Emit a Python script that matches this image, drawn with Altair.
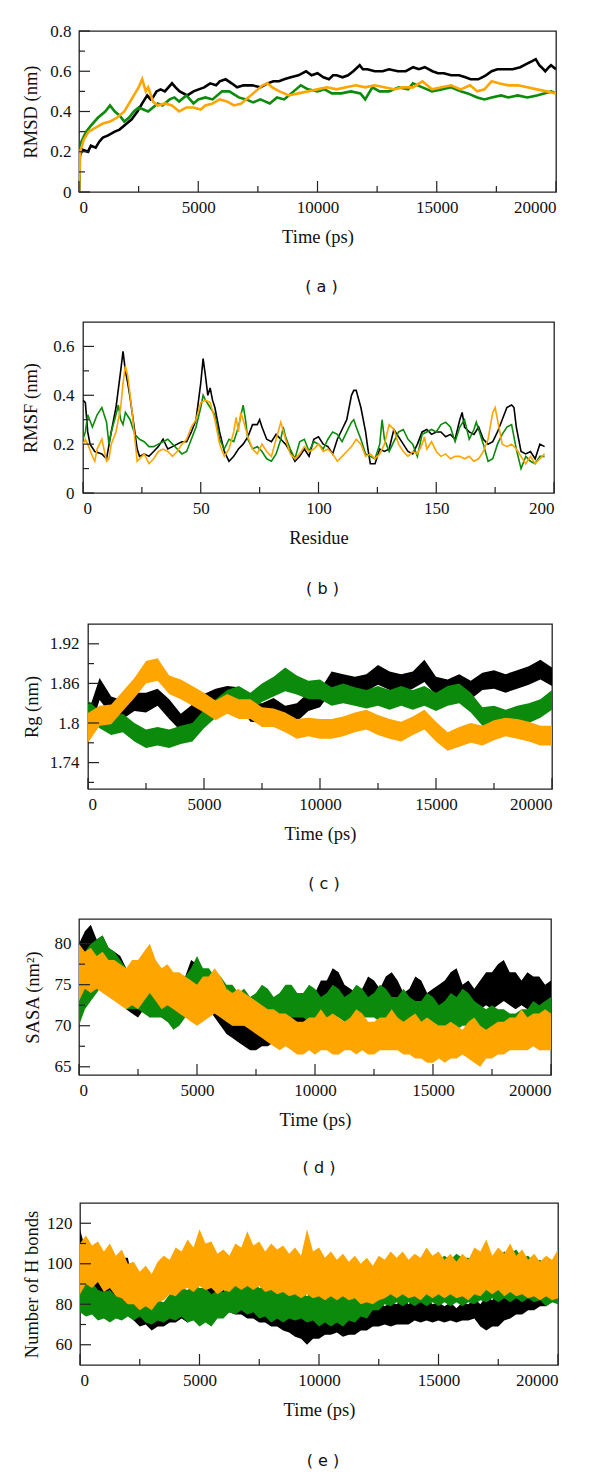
import altair as alt
import pandas as pd

BLACK = "#000000"
GREEN = "#0b8a0b"
ORANGE = "#ffa500"

# ---------------- (a) RMSD ----------------
a_black_t = [0, 30, 150, 370, 500, 700, 850, 1000, 1200, 1500, 1700, 2000, 2200, 2450, 2650, 2860, 3000, 3100, 3250, 3420, 3600, 3900, 4050, 4220, 4540, 4800, 5020, 5250, 5500, 5750, 5900, 6150, 6400, 6630, 6900, 7270, 7600, 7910, 8150, 8390, 8600, 8880, 9200, 9520, 9750, 10000, 10250, 10480, 10650, 10800, 11050, 11280, 11500, 11770, 11900, 12090, 12400, 12730, 13000, 13370, 13700, 14010, 14250, 14500, 14820, 15050, 15300, 15600, 15940, 16200, 16420, 16740, 16900, 17060, 17300, 17540, 17850, 18180, 18500, 18830, 19000, 19150, 19300, 19390, 19550, 19700, 19790, 20000]
a_black_v = [0.0, 0.18, 0.21, 0.2, 0.23, 0.22, 0.25, 0.27, 0.28, 0.3, 0.31, 0.34, 0.36, 0.4, 0.44, 0.48, 0.46, 0.47, 0.5, 0.51, 0.5, 0.54, 0.52, 0.5, 0.48, 0.5, 0.51, 0.52, 0.54, 0.53, 0.55, 0.56, 0.54, 0.52, 0.53, 0.53, 0.52, 0.54, 0.55, 0.55, 0.56, 0.57, 0.58, 0.6, 0.58, 0.59, 0.57, 0.56, 0.58, 0.58, 0.57, 0.58, 0.6, 0.63, 0.61, 0.61, 0.6, 0.6, 0.61, 0.6, 0.6, 0.62, 0.61, 0.62, 0.6, 0.59, 0.59, 0.58, 0.58, 0.57, 0.56, 0.56, 0.57, 0.58, 0.6, 0.61, 0.61, 0.61, 0.62, 0.64, 0.65, 0.66, 0.63, 0.62, 0.6, 0.62, 0.63, 0.61]
a_green_t = [0, 20, 100, 300, 500, 800, 1100, 1300, 1500, 1700, 1900, 2100, 2300, 2500, 2700, 2900, 3100, 3300, 3500, 3800, 4000, 4200, 4500, 4800, 5000, 5300, 5600, 6000, 6300, 6700, 7000, 7300, 7600, 8000, 8300, 8600, 8800, 9000, 9300, 9600, 10000, 10300, 10600, 11000, 11400, 11800, 12000, 12300, 12600, 13000, 13400, 13800, 14000, 14400, 14800, 15200, 15600, 16000, 16300, 16700, 17000, 17300, 17700, 18000, 18400, 18800, 19200, 19500, 19800, 20000]
a_green_v = [0.0, 0.15, 0.25, 0.3, 0.33, 0.37, 0.4, 0.43, 0.4, 0.38, 0.35, 0.37, 0.4, 0.42, 0.41, 0.4, 0.42, 0.44, 0.43, 0.46, 0.47, 0.45, 0.48, 0.44, 0.46, 0.47, 0.46, 0.5, 0.5, 0.47, 0.46, 0.445, 0.46, 0.44, 0.47, 0.46, 0.48, 0.5, 0.53, 0.51, 0.5, 0.51, 0.49, 0.49, 0.5, 0.49, 0.46, 0.52, 0.5, 0.5, 0.52, 0.51, 0.54, 0.52, 0.5, 0.51, 0.52, 0.5, 0.49, 0.47, 0.46, 0.47, 0.48, 0.47, 0.48, 0.47, 0.48, 0.49, 0.5, 0.49]
a_orange_t = [0, 50, 200, 400, 700, 1000, 1300, 1600, 1900, 2100, 2300, 2500, 2650, 2800, 2900, 3100, 3300, 3600, 3900, 4200, 4500, 4800, 5100, 5300, 5600, 5900, 6200, 6500, 6800, 7100, 7400, 7700, 7900, 8100, 8400, 8800, 9200, 9600, 10000, 10400, 10800, 11200, 11600, 12000, 12400, 12800, 13200, 13600, 14000, 14400, 14800, 15200, 15600, 16000, 16400, 16700, 17000, 17300, 17600, 18000, 18400, 18800, 19200, 19600, 20000]
a_orange_v = [0.0, 0.2, 0.26, 0.3, 0.32, 0.34, 0.35, 0.37, 0.4, 0.44, 0.48, 0.52, 0.56, 0.5, 0.52, 0.45, 0.43, 0.44, 0.43, 0.4, 0.42, 0.42, 0.41, 0.43, 0.44, 0.46, 0.45, 0.43, 0.44, 0.47, 0.5, 0.53, 0.54, 0.52, 0.5, 0.48, 0.49, 0.5, 0.51, 0.52, 0.51, 0.52, 0.53, 0.52, 0.53, 0.52, 0.51, 0.52, 0.52, 0.55, 0.51, 0.52, 0.53, 0.51, 0.53, 0.5, 0.51, 0.55, 0.54, 0.53, 0.53, 0.52, 0.51, 0.5, 0.49]

# ---------------- (b) RMSF ----------------
b_black_r = [0, 1, 2, 3, 5, 8, 10, 12, 14, 16, 17, 18, 19, 20, 22, 23, 24, 26, 28, 30, 32, 34, 36, 38, 40, 42, 44, 46, 48, 50, 51, 52, 53, 54, 55, 56, 58, 60, 62, 64, 66, 68, 70, 72, 74, 75, 76, 78, 80, 82, 84, 86, 88, 90, 92, 94, 96, 98, 100, 102, 104, 106, 108, 110, 112, 114, 115, 116, 118, 120, 121, 122, 124, 126, 128, 130, 132, 134, 136, 138, 140, 142, 144, 146, 148, 150, 152, 154, 156, 158, 160, 161, 162, 164, 166, 168, 170, 172, 174, 176, 178, 180, 182, 183, 184, 186, 188, 190, 192, 194, 196]
b_black_v = [0.38, 0.37, 0.25, 0.2, 0.17, 0.16, 0.14, 0.25, 0.35, 0.5, 0.58, 0.5, 0.45, 0.39, 0.25, 0.18, 0.15, 0.16, 0.15, 0.17, 0.19, 0.22, 0.18, 0.19, 0.2, 0.21, 0.21, 0.25, 0.3, 0.45, 0.55, 0.48, 0.4, 0.43, 0.38, 0.35, 0.25, 0.17, 0.13, 0.15, 0.18, 0.2, 0.23, 0.28, 0.28, 0.3, 0.27, 0.22, 0.21, 0.24, 0.22, 0.2, 0.17, 0.13, 0.15, 0.18, 0.15, 0.22, 0.23, 0.2, 0.19, 0.16, 0.22, 0.26, 0.3, 0.4, 0.42, 0.42, 0.35, 0.25, 0.18, 0.12, 0.12, 0.18, 0.17, 0.18, 0.26, 0.23, 0.2, 0.17, 0.16, 0.2, 0.25, 0.26, 0.24, 0.25, 0.25, 0.23, 0.24, 0.22, 0.3, 0.33, 0.27, 0.25, 0.24, 0.27, 0.22, 0.2, 0.21, 0.25, 0.3, 0.35, 0.36, 0.35, 0.27, 0.17, 0.16, 0.17, 0.14, 0.2, 0.19]
b_green_r = [0, 1, 2, 4, 6, 8, 10, 11, 12, 14, 15, 16, 17, 18, 20, 22, 24, 26, 28, 30, 32, 34, 36, 38, 40, 42, 44, 46, 48, 50, 51, 52, 54, 56, 58, 60, 62, 64, 66, 68, 69, 70, 72, 74, 76, 78, 80, 82, 84, 85, 86, 88, 90, 92, 94, 96, 98, 100, 102, 104, 106, 108, 110, 112, 114, 115, 116, 118, 120, 122, 124, 126, 127, 128, 130, 132, 134, 136, 138, 140, 142, 144, 146, 148, 150, 152, 154, 156, 158, 160, 162, 164, 166, 167, 168, 170, 172, 174, 176, 178, 180, 182, 184, 186, 188, 190, 192, 194, 196]
b_green_v = [0.22, 0.25, 0.32, 0.27, 0.32, 0.35, 0.29, 0.2, 0.25, 0.32, 0.36, 0.3, 0.28, 0.33, 0.3, 0.24, 0.22, 0.21, 0.19, 0.19, 0.2, 0.21, 0.22, 0.2, 0.18, 0.16, 0.17, 0.22, 0.27, 0.35, 0.4, 0.38, 0.35, 0.32, 0.22, 0.18, 0.22, 0.21, 0.27, 0.36, 0.3, 0.22, 0.18, 0.19, 0.17, 0.14, 0.13, 0.16, 0.22, 0.27, 0.23, 0.18, 0.14, 0.21, 0.22, 0.17, 0.21, 0.2, 0.18, 0.22, 0.25, 0.24, 0.21, 0.25, 0.29, 0.3, 0.27, 0.22, 0.16, 0.15, 0.14, 0.2, 0.3, 0.22, 0.17, 0.21, 0.25, 0.26, 0.22, 0.2, 0.15, 0.24, 0.25, 0.26, 0.25, 0.28, 0.29, 0.27, 0.21, 0.27, 0.3, 0.22, 0.26, 0.29, 0.26, 0.2, 0.13, 0.14, 0.2, 0.24, 0.27, 0.28, 0.18, 0.1, 0.15, 0.13, 0.12, 0.15, 0.15]
b_orange_r = [0, 1, 2, 4, 5, 6, 8, 10, 11, 12, 14, 16, 17, 18, 19, 20, 21, 22, 23, 24, 26, 28, 30, 32, 34, 36, 38, 40, 42, 44, 46, 48, 50, 52, 54, 56, 58, 60, 62, 64, 65, 66, 67, 68, 70, 72, 74, 76, 78, 80, 82, 84, 86, 88, 90, 92, 94, 96, 98, 100, 102, 104, 106, 108, 110, 112, 114, 116, 118, 120, 122, 124, 126, 128, 130, 132, 134, 136, 138, 140, 142, 144, 145, 146, 148, 150, 152, 154, 156, 158, 160, 162, 164, 166, 168, 170, 172, 174, 175, 176, 178, 180, 182, 184, 186, 188, 190, 192, 194, 196]
b_orange_v = [0.2, 0.22, 0.2, 0.15, 0.13, 0.18, 0.22, 0.13, 0.14, 0.2, 0.25, 0.35, 0.45, 0.52, 0.48, 0.4, 0.32, 0.22, 0.13, 0.14, 0.16, 0.12, 0.14, 0.17, 0.18, 0.17, 0.15, 0.17, 0.2, 0.22, 0.27, 0.3, 0.37, 0.38, 0.37, 0.3, 0.2, 0.15, 0.18, 0.25, 0.31, 0.25, 0.33, 0.3, 0.23, 0.18, 0.16, 0.2, 0.17, 0.15, 0.22, 0.29, 0.22, 0.16, 0.14, 0.16, 0.19, 0.17, 0.18, 0.2, 0.17, 0.18, 0.16, 0.13, 0.15, 0.17, 0.19, 0.22, 0.2, 0.15, 0.16, 0.14, 0.16, 0.2, 0.28, 0.26, 0.2, 0.17, 0.15, 0.17, 0.16, 0.2, 0.23, 0.18, 0.21, 0.17, 0.15, 0.16, 0.14, 0.15, 0.15, 0.14, 0.15, 0.13, 0.14, 0.17, 0.22, 0.33, 0.35, 0.3, 0.2, 0.19, 0.2, 0.18, 0.15, 0.12, 0.15, 0.12, 0.14, 0.16]

# time grids (ps) for the band panels
t_grid = list(range(0, 20001, 500))
t_fine = list(range(0, 20001, 250))

# ---------------- (c) Rg ----------------
c_black_lo = [1.78, 1.835, 1.812, 1.806, 1.818, 1.816, 1.826, 1.806, 1.788, 1.798, 1.818, 1.824, 1.83, 1.826, 1.802, 1.8, 1.812, 1.798, 1.802, 1.818, 1.824, 1.848, 1.846, 1.842, 1.848, 1.858, 1.85, 1.846, 1.852, 1.862, 1.842, 1.838, 1.846, 1.836, 1.85, 1.852, 1.846, 1.852, 1.858, 1.866, 1.856]
c_black_hi = [1.815, 1.868, 1.84, 1.834, 1.846, 1.846, 1.852, 1.836, 1.814, 1.828, 1.844, 1.852, 1.856, 1.854, 1.83, 1.83, 1.838, 1.826, 1.83, 1.846, 1.85, 1.878, 1.874, 1.87, 1.874, 1.888, 1.878, 1.874, 1.878, 1.896, 1.87, 1.866, 1.874, 1.864, 1.876, 1.88, 1.874, 1.88, 1.886, 1.896, 1.884]
c_green_lo = [1.806, 1.792, 1.782, 1.786, 1.772, 1.762, 1.766, 1.762, 1.768, 1.772, 1.792, 1.808, 1.822, 1.828, 1.818, 1.832, 1.84, 1.848, 1.843, 1.836, 1.836, 1.826, 1.83, 1.826, 1.822, 1.826, 1.82, 1.826, 1.82, 1.826, 1.818, 1.826, 1.83, 1.816, 1.796, 1.796, 1.79, 1.796, 1.8, 1.808, 1.82]
c_green_hi = [1.834, 1.818, 1.81, 1.814, 1.8, 1.79, 1.794, 1.79, 1.796, 1.8, 1.82, 1.836, 1.85, 1.856, 1.846, 1.86, 1.87, 1.884, 1.872, 1.864, 1.866, 1.854, 1.86, 1.854, 1.85, 1.856, 1.85, 1.856, 1.85, 1.856, 1.846, 1.856, 1.86, 1.846, 1.824, 1.826, 1.82, 1.826, 1.83, 1.836, 1.85]
c_orange_lo = [1.77, 1.796, 1.798, 1.818, 1.838, 1.86, 1.864, 1.844, 1.836, 1.826, 1.816, 1.804, 1.814, 1.806, 1.806, 1.794, 1.794, 1.786, 1.776, 1.78, 1.776, 1.776, 1.78, 1.786, 1.79, 1.782, 1.776, 1.772, 1.782, 1.79, 1.772, 1.758, 1.764, 1.77, 1.766, 1.774, 1.78, 1.776, 1.772, 1.766, 1.766]
c_orange_hi = [1.815, 1.826, 1.828, 1.848, 1.868, 1.894, 1.898, 1.872, 1.866, 1.856, 1.846, 1.834, 1.844, 1.836, 1.836, 1.824, 1.822, 1.816, 1.806, 1.808, 1.806, 1.806, 1.81, 1.816, 1.82, 1.812, 1.806, 1.802, 1.81, 1.82, 1.802, 1.786, 1.794, 1.8, 1.796, 1.804, 1.808, 1.806, 1.802, 1.796, 1.796]

# ---------------- (d) SASA (250 ps grid) ----------------
d_black_hi = [80, 81.5, 82.3, 80.5, 81, 79.5, 79, 78.5, 77,
              76, 76, 77, 75.5, 74.5, 75, 76, 75, 75.5,
              76, 78, 77.5, 76, 76.5, 75, 75, 73.5, 73,
              72, 71, 71.5, 71, 70.5, 71, 70.5, 71, 72,
              72, 72.5, 73, 74, 74, 75.5, 75.5, 77, 76.5,
              75, 74.5, 74, 74.5, 76, 75.5, 74.5, 76, 76.5,
              75.5, 74, 74.5, 76, 75.5, 74, 74.5, 75, 75.5,
              76.5, 77, 75, 75.5, 74.5, 75.5, 76.5, 76.5, 77.5,
              78, 76.5, 76.5, 75.5, 76.5, 76, 76, 75, 75.5]
d_black_lo = [72, 76, 78, 77, 76, 75, 74, 73, 72,
              71.5, 71, 72, 71, 71.5, 71, 70.5, 71, 71.5,
              72, 72.5, 73, 72, 72, 71, 70, 69, 68.5,
              68, 67.5, 67, 67, 67.5, 67.5, 68, 68, 68.5,
              69, 69.5, 70, 70.5, 71, 71.5, 72, 72, 72,
              72.5, 72, 71.5, 72, 72.5, 72, 71.5, 72, 71.5,
              71, 71.5, 71, 70.5, 71, 71.5, 71, 71.5, 72,
              72, 72, 71.5, 71, 71.5, 72, 72.5, 72, 72.5,
              73, 72.5, 72, 72.5, 72, 71.5, 72, 72.5, 72]
d_green_hi = [78, 79, 80, 80.5, 81, 79.5, 79, 78, 77,
              76.5, 76, 77, 76, 75, 75, 74, 75, 76,
              76, 77, 78.5, 77, 77, 76, 76, 75, 75,
              74, 74.5, 73.5, 74, 75, 74.5, 73.5, 74, 75,
              75, 74, 74, 75, 74.5, 73.5, 74, 75, 74.5,
              73.5, 74, 75, 74.5, 73.5, 74, 75, 74.5, 73.5,
              73.5, 74.5, 73.5, 73, 73, 74, 73.5, 72.5, 73,
              74, 73.5, 74.5, 74, 73, 72.5, 72, 72.5, 72,
              72, 71.5, 71.5, 72, 72, 73, 72.5, 73, 73.5]
d_green_lo = [70, 72, 73, 74, 75, 74.5, 74, 73, 72,
              72, 72, 71.5, 71, 71, 71, 70.5, 69.5, 70,
              71, 72, 73, 72.5, 72, 71.5, 71, 70.5, 70,
              70, 70, 70, 70, 70, 70, 70.5, 71, 71,
              71, 71, 71, 70.5, 70.5, 71, 71, 71, 71,
              70.5, 70.5, 71, 71, 71, 71, 70.5, 70.5, 70.5,
              70, 69.5, 69.5, 70, 70, 69.5, 69.5, 70, 70,
              69.5, 69.5, 70, 70, 69.5, 69, 69, 69, 69,
              68.5, 68, 68, 67.5, 67.5, 68, 68.5, 69, 70]
d_orange_hi = [80, 79, 79.5, 78.5, 79, 78, 78, 77.5, 77,
               78, 78, 79, 80, 78, 77, 77.5, 76.5, 76.5,
               76, 75.5, 75, 76, 76, 77, 76, 74.5, 74,
               74.5, 74, 73.5, 73, 72.5, 72, 72, 71.5, 71.5,
               71, 70.5, 70.5, 71, 71, 72, 71, 71.5, 71,
               70.5, 71, 72, 71.5, 70.5, 70.5, 71, 71, 72,
               71, 70.5, 71, 71.5, 70.5, 71, 70.5, 70, 70,
               70.5, 70, 69.5, 70.5, 71, 70, 69.5, 70, 70.5,
               70.5, 71, 71, 72, 71, 71.5, 71.5, 72, 71.5]
d_orange_lo = [73, 74.5, 74, 74.5, 74, 73.5, 73, 72.5, 72,
               72.5, 72, 73, 74, 73, 72, 72.5, 72, 71.5,
               71, 70.5, 70, 70.5, 71, 71.5, 71, 70.5, 70,
               70, 70, 69.5, 69, 68.5, 68, 67.5, 67, 67.5,
               67, 66.5, 66.5, 67, 66.5, 67, 67, 66.5, 66.5,
               67, 67, 66.5, 67, 66.5, 66.5, 67, 67, 67,
               67, 66.5, 66.5, 66, 66, 65.5, 65.5, 66, 65.5,
               66, 66, 66.5, 66, 65.5, 65, 66, 66, 66.5,
               66.5, 67, 67, 67, 67, 67.5, 67, 67, 67]

# ---------------- (e) H bonds (250 ps grid) ----------------
e_black_hi = [117, 106, 104, 101, 100, 102, 99, 103, 103,
              90, 80, 77, 79, 78, 81, 80, 83, 82,
              85, 84, 87, 86, 90, 85, 87, 85, 87,
              84, 86, 83, 84, 81, 83, 80, 81, 78,
              79, 76, 79, 76, 78, 77, 79, 76, 79,
              76, 78, 76, 79, 78, 81, 79, 81, 80,
              83, 80, 83, 81, 83, 80, 81, 79, 81,
              78, 81, 80, 83, 80, 84, 82, 87, 85,
              89, 86, 87, 85, 89, 87, 91, 89, 95]
e_black_lo = [88, 86, 85, 84, 81, 81, 79, 78, 75,
              72, 69, 70, 67, 69, 69, 71, 71, 73,
              71, 73, 73, 75, 73, 75, 74, 76, 75,
              75, 73, 73, 71, 71, 69, 69, 67, 66,
              64, 63, 60, 63, 63, 65, 65, 66, 64,
              65, 65, 67, 67, 69, 69, 70, 69, 70,
              70, 70, 72, 71, 72, 71, 72, 71, 72,
              71, 72, 72, 73, 69, 67, 69, 69, 72,
              73, 75, 75, 77, 77, 79, 79, 81, 82]
e_green_hi = [92, 90, 91, 87, 86, 87, 84, 85, 82,
              82, 79, 81, 79, 82, 81, 85, 85, 88,
              87, 90, 88, 88, 85, 87, 86, 90, 90,
              94, 92, 92, 88, 89, 87, 89, 86, 87,
              85, 86, 84, 87, 84, 88, 87, 88, 86,
              88, 86, 90, 89, 95, 97, 102, 99, 101,
              97, 100, 99, 102, 101, 103, 102, 104, 102,
              105, 103, 103, 99, 100, 97, 102, 103, 106,
              105, 107, 103, 104, 101, 102, 99, 100, 98]
e_green_lo = [76, 74, 75, 72, 73, 71, 73, 72, 74,
              72, 74, 71, 70, 72, 71, 73, 72, 74,
              71, 72, 69, 71, 69, 73, 73, 76, 75,
              77, 75, 76, 73, 74, 71, 73, 71, 73,
              72, 73, 71, 72, 69, 71, 69, 71, 69,
              72, 71, 74, 73, 77, 77, 80, 79, 81,
              79, 81, 79, 81, 79, 81, 79, 81, 79,
              81, 79, 81, 80, 82, 81, 83, 81, 83,
              81, 83, 81, 83, 81, 82, 79, 81, 80]
e_orange_hi = [110, 114, 109, 111, 106, 110, 104, 107, 100,
               101, 96, 99, 95, 101, 104, 102, 108, 106,
               112, 108, 117, 110, 111, 105, 107, 104, 110,
               108, 116, 109, 111, 106, 110, 107, 109, 105,
               108, 104, 117, 106, 108, 103, 106, 102, 105,
               101, 104, 100, 103, 99, 104, 102, 106, 103,
               106, 102, 105, 103, 108, 104, 106, 102, 105,
               101, 105, 102, 108, 106, 112, 104, 108, 105,
               110, 104, 107, 102, 105, 101, 104, 102, 107]
e_orange_lo = [85, 90, 88, 91, 86, 88, 84, 83, 80,
               80, 77, 79, 77, 81, 82, 85, 84, 87,
               88, 86, 89, 87, 88, 85, 87, 86, 89,
               87, 89, 87, 89, 86, 87, 85, 86, 84,
               85, 83, 85, 83, 84, 82, 84, 82, 84,
               82, 83, 80, 81, 80, 82, 83, 85, 83,
               85, 83, 84, 82, 85, 83, 85, 83, 85,
               83, 84, 82, 85, 84, 87, 85, 87, 84,
               86, 84, 85, 83, 84, 82, 84, 82, 83]

SERIF = "Liberation Serif"


def line_df(t, v):
    return pd.DataFrame({"t": t, "v": v})


def band_df(t, lo, hi):
    return pd.DataFrame({"t": t, "lo": lo, "hi": hi})


def panel(series, kind, xdom, ydom, x_major, x_minor, y_major, y_minor,
          xtitle, ytitle, w, h, caption, tpad_y, lpad_y=8, cap_off=31, stroke=2.2, yfmt="~g"):
    xs = alt.Scale(domain=xdom, nice=False, zero=False)
    ys = alt.Scale(domain=ydom, nice=False, zero=False)
    xax = alt.Axis(values=x_major, format="d", title=xtitle, labelPadding=7,
                   titlePadding=12, tickSize=0)
    yax = alt.Axis(values=y_major, format=yfmt, title=ytitle, labelPadding=lpad_y,
                   titlePadding=tpad_y, tickSize=0)
    layers = []
    for df, col in series:
        if kind == "line":
            layers.append(alt.Chart(df).mark_line(color=col, strokeWidth=stroke, clip=True).encode(
                x=alt.X("t:Q", scale=xs, axis=xax),
                y=alt.Y("v:Q", scale=ys, axis=yax)))
        else:
            layers.append(alt.Chart(df).mark_area(color=col, opacity=1, clip=True).encode(
                x=alt.X("t:Q", scale=xs, axis=xax),
                y=alt.Y("lo:Q", scale=ys, axis=yax),
                y2="hi:Q"))
    for vals, ln in ((x_major, 11), (x_minor, 6)):
        layers.append(alt.Chart(pd.DataFrame({"t": vals})).mark_rule(color="#222", strokeWidth=1.2).encode(
            x=alt.X("t:Q", scale=xs, axis=xax), y=alt.value(h), y2=alt.value(h - ln)))
    for vals, ln in ((y_major, 11), (y_minor, 6)):
        layers.append(alt.Chart(pd.DataFrame({"v": vals})).mark_rule(color="#222", strokeWidth=1.2).encode(
            y=alt.Y("v:Q", scale=ys, axis=yax), x=alt.value(0), x2=alt.value(ln)))
    return alt.layer(*layers).properties(
        width=w, height=h,
        title=alt.TitleParams(caption, orient="bottom", font="DejaVu Sans", fontSize=16,
                              fontWeight="normal", color="#111", offset=cap_off, frame="group",
                              anchor="middle", dx=4))


def with_indent(chart, dx):
    spacer = alt.Chart(pd.DataFrame({"s": [0]})).mark_point(opacity=0).encode(
        x=alt.X("s:Q", axis=None), y=alt.Y("s:Q", axis=None)
    ).properties(width=dx, height=10, view=alt.ViewBackground(stroke="transparent"))
    return alt.hconcat(spacer, chart, spacing=0)


x_major_t = [0, 5000, 10000, 15000, 20000]
x_minor_t = [2500, 7500, 12500, 17500]

pa = panel([(line_df(a_black_t, a_black_v), BLACK), (line_df(a_green_t, a_green_v), GREEN),
            (line_df(a_orange_t, a_orange_v), ORANGE)], "line", [0, 20000], [0, 0.8],
           x_major_t, x_minor_t, [0, 0.2, 0.4, 0.6, 0.8], [0.1, 0.3, 0.5, 0.7],
           "Time (ps)", "RMSD (nm)", 477, 161, "( a )", 9, cap_off=33, stroke=2.6)

pb = panel([(line_df(b_black_r, b_black_v), BLACK), (line_df(b_green_r, b_green_v), GREEN),
            (line_df(b_orange_r, b_orange_v), ORANGE)], "line", [0, 200], [0, 0.7],
           [0, 50, 100, 150, 200], [25, 75, 125, 175], [0, 0.2, 0.4, 0.6], [0.1, 0.3, 0.5],
           "Residue", "RMSF (nm)", 471, 171, "( b )", 12, lpad_y=9, cap_off=34, stroke=1.6)

pc = panel([(band_df(t_grid, c_black_lo, c_black_hi), BLACK), (band_df(t_grid, c_green_lo, c_green_hi), GREEN),
            (band_df(t_grid, c_orange_lo, c_orange_hi), ORANGE)], "band", [0, 20000], [1.7, 1.95],
           x_major_t, x_minor_t, [1.74, 1.8, 1.86, 1.92], [1.71, 1.77, 1.83, 1.89],
           "Time (ps)", "Rg (nm)", 464, 165, "( c )", 8, lpad_y=9, cap_off=33)

pdd = panel([(band_df(t_fine, d_black_lo, d_black_hi), BLACK), (band_df(t_fine, d_green_lo, d_green_hi), GREEN),
             (band_df(t_fine, d_orange_lo, d_orange_hi), ORANGE)], "band", [0, 20000], [64, 83],
            x_major_t, x_minor_t, [65, 70, 75, 80], [67.5, 72.5, 77.5],
            "Time (ps)", "SASA (nm²)", 472, 156, "( d )", 12, cap_off=31, yfmt="d")

pe = panel([(band_df(t_fine, e_black_lo, e_black_hi), BLACK), (band_df(t_fine, e_green_lo, e_green_hi), GREEN),
            (band_df(t_fine, e_orange_lo, e_orange_hi), ORANGE)], "band", [0, 20000], [50, 130],
           x_major_t, x_minor_t, [60, 80, 100, 120], [70, 90, 110],
           "Time (ps)", "Number of H bonds", 478, 162, "( e )", 5, cap_off=34, yfmt="d")

chart = alt.concat(with_indent(pa, 1), with_indent(pb, 1), with_indent(pc, 1),
                   with_indent(pdd, 3), with_indent(pe, 1),
                   columns=1, spacing=25).properties(
    padding={"left": 6, "top": 13, "right": 5, "bottom": 5}, background="white"
).configure_view(stroke="#222", strokeWidth=1.3).configure_axis(
    grid=False, domain=False, ticks=False, labelFont=SERIF, labelFontSize=17, labelColor="#111",
    titleFont=SERIF, titleFontSize=18.5, titleFontWeight="normal", titleColor="#111"
)

chart.save("out.html", embed_options={"renderer": "svg", "actions": False})
